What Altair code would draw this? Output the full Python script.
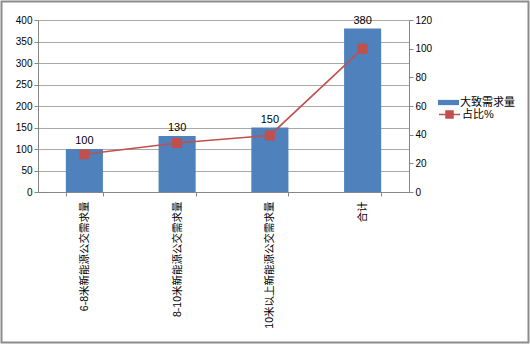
import altair as alt
import pandas as pd

categories = ["6-8米新能源公交需求量", "8-10米新能源公交需求量", "10米以上新能源公交需求量", "合计"]
demand = [100, 130, 150, 380]
share = [26.3, 34.2, 39.5, 100]
series_bar = "大致需求量"
series_line = "占比%"
left_ticks = [0, 50, 100, 150, 200, 250, 300, 350, 400]
right_ticks = [0, 20, 40, 60, 80, 100, 120]

df = pd.DataFrame({
    "cat": categories,
    "demand": demand,
    "share": share,
    "s1": [series_bar] * len(categories),
    "s2": [series_line] * len(categories),
})

FONT = "Liberation Sans, Noto Sans CJK SC"
BLUE = "#4F81BD"
RED = "#C0504D"
AXC = "#868686"

x = alt.X(
    "cat:N", sort=categories, title=None,
    scale=alt.Scale(paddingInner=0.6, paddingOuter=0.3),
    axis=alt.Axis(labelAngle=270, tickBand="extent", labelFontSize=10.5, labelFont=FONT,
                  labelColor="black", domainColor=AXC, tickColor=AXC, tickSize=4,
                  labelPadding=5, labelLimit=300),
)

bars = alt.Chart(df).mark_bar().encode(
    x=x,
    y=alt.Y("demand:Q", title=None, scale=alt.Scale(domain=[0, 400]),
            axis=alt.Axis(values=left_ticks, grid=True, gridColor="#a8a8a8",
                          domainColor=AXC, tickColor=AXC, tickSize=4, labelPadding=2,
                          labelFontSize=10, labelFont=FONT, labelColor="black")),
    fill=alt.Fill("s1:N", scale=alt.Scale(range=[BLUE]),
                  legend=alt.Legend(title=None, orient="none", legendX=400, legendY=72,
                                    symbolType="M-1,-0.25H1V0.25H-1Z", symbolSize=441,
                                    symbolStrokeWidth=0, labelFontSize=11, labelFont=FONT,
                                    labelColor="black", labelOffset=1, padding=0)),
)

labels = alt.Chart(df).mark_text(dy=-8, fontSize=11, font=FONT, color="black").encode(
    x=x,
    y=alt.Y("demand:Q", scale=alt.Scale(domain=[0, 400]), axis=None),
    text="demand:Q",
)

line = alt.Chart(df).mark_line(
    color=RED, strokeWidth=1.6,
    point=alt.OverlayMarkDef(shape="square", filled=True, size=64, color=RED),
).encode(
    x=x,
    y=alt.Y("share:Q", title=None, scale=alt.Scale(domain=[0, 120]),
            axis=alt.Axis(orient="right", values=right_ticks, grid=False,
                          domainColor=AXC, tickColor=AXC, tickSize=4, labelPadding=2,
                          labelFontSize=10, labelFont=FONT, labelColor="black")),
    stroke=alt.Stroke("s2:N", scale=alt.Scale(range=[RED]),
                      legend=alt.Legend(title=None, orient="none", legendX=400, legendY=83,
                                        symbolType="M-1,0H1M-0.33,-0.33H0.33V0.33H-0.33Z",
                                        symbolSize=441, symbolStrokeWidth=1.6,
                                        symbolFillColor=RED,
                                        labelFontSize=11, labelFont=FONT, labelColor="black",
                                        labelOffset=1, padding=0)),
)

border = alt.Chart(pd.DataFrame({"a": [0]})).mark_rect(
    fill="transparent", stroke="#8c8c8c", strokeWidth=2
).encode(
    x=alt.value(-36.5), x2=alt.value(490.5), y=alt.value(-18.5), y2=alt.value(322.5)
)

chart = alt.layer(bars, labels, line, border).resolve_scale(y="independent").properties(
    width=371, height=172,
    autosize=alt.AutoSizeParams(type="none"),
    padding={"left": 38, "top": 20, "right": 121, "bottom": 153},
    background="white",
).configure_view(stroke=None)

chart.save("out.html", embed_options={"renderer": "svg", "actions": False})
